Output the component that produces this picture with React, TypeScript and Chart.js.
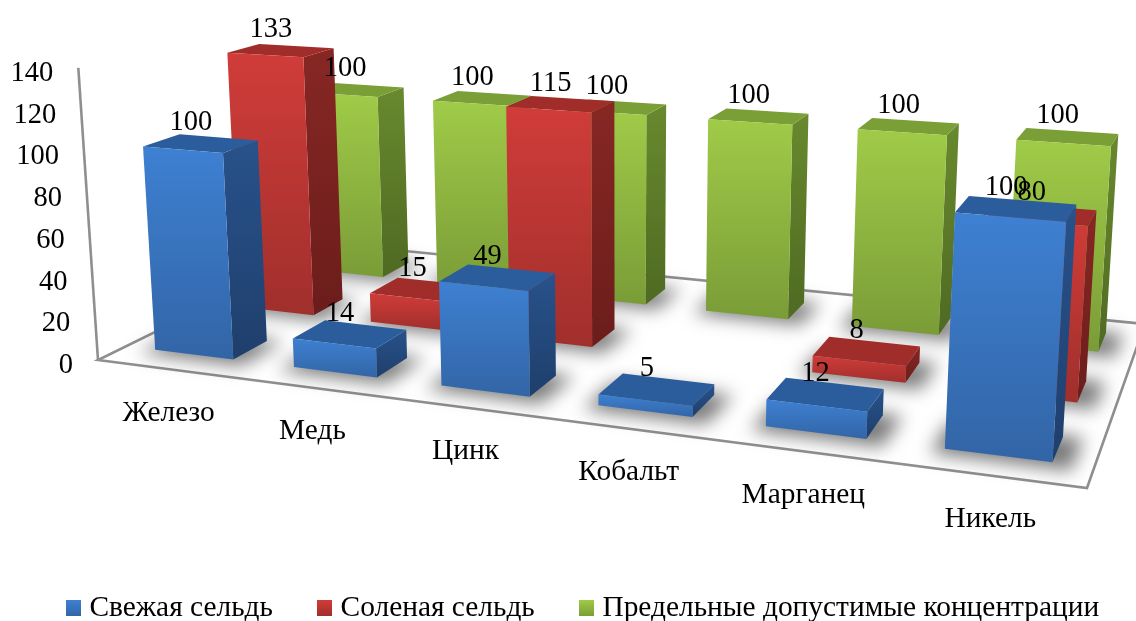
import React, { useEffect, useRef } from "react";
import { Chart, registerables } from "chart.js";

Chart.register(...registerables);

const categories = ["Железо", "Медь", "Цинк", "Кобальт", "Марганец", "Никель"];
const freshHerring = [100, 14, 49, 5, 12, 100];
const saltedHerring = [133, 15, 115, null, 8, 80];
const limits = [100, 100, 100, 100, 100, 100];
const seriesNames = ["Свежая сельдь", "Соленая сельдь", "Предельные допустимые концентрации"];

const W = 1136;
const H = 621;
const FONT = "'Liberation Serif', 'Times New Roman', serif";
const FONT_SIZE = 28.5;
const TEXT_FONT_SIZE = 29.4;

const palette = [
  { legend: "#3a7ccc", front: ["#3e80d2", "#3265a6"], side: ["#28528b", "#1f3f6c"], top: "#2b5d9c" },
  { legend: "#c93a37", front: ["#d03c39", "#a02f2c"], side: ["#872724", "#6b1d1b"], top: "#a02d2a" },
  { legend: "#8cb33f", front: ["#a0cb48", "#7a9c37"], side: ["#68892e", "#4f6a22"], top: "#7a9f36" },
];

// Camera of the 3D view: homography of the floor plus the vertical vanishing direction.
const cam = { a: 794.03, b: 313.59, c: 98, d: 40.47, e: -59.32, f: 360, g: -0.17936, h: 0.23231, vx: 620, vy: 8100, lam: -0.03636 };

function project(u: number, v: number, t: number) {
  const k = cam.lam * t;
  const w = cam.g * u + cam.h * v + 1 + k;
  return {
    x: (cam.a * u + cam.b * v + cam.c + k * cam.vx) / w,
    y: (cam.d * u + cam.e * v + cam.f + k * cam.vy) / w,
  };
}

const BAR_U = 0.57; // share of a category cell
const BAR_V = 0.4; // share of a series row

function poly(ctx: CanvasRenderingContext2D, pts: { x: number; y: number }[], shift = 0) {
  ctx.beginPath();
  pts.forEach((p, i) => (i ? ctx.lineTo(p.x + shift, p.y) : ctx.moveTo(p.x + shift, p.y)));
  ctx.closePath();
}

function legendSwatch(colors: string[]) {
  const c = document.createElement("canvas");
  c.width = 15;
  c.height = 16;
  const x = c.getContext("2d")!;
  const g = x.createLinearGradient(0, 0, 0, 16);
  g.addColorStop(0, colors[0]);
  g.addColorStop(1, colors[1]);
  x.fillStyle = g;
  x.fillRect(0, 0, 15, 16);
  return c;
}

const scene3d = {
  id: "scene3d",
  beforeDraw(chart: any) {
    const { x, y } = chart.scales;
    x.getLabelItems().forEach((it: any, i: number) => {
      const p = project((x.getPixelForTick(i) - x.left) / x.width, 0, 0);
      it.options.translation = [p.x + 2, p.y + 44];
      it.options.textBaseline = "middle";
      it.options.textAlign = "center";
      it.textOffset = 0;
    });
    y.getLabelItems().forEach((it: any, i: number) => {
      const px = y.getPixelForTick(i);
      const p = project(0, 0, (y.bottom - px) / (y.bottom - y.top));
      it.options.translation = [p.x - 25, px];
      it.options.textAlign = "right";
    });
  },
  beforeDatasetsDraw(chart: any) {
    const { ctx, scales } = chart;
    const { x, y } = scales;
    const rows = chart.data.datasets.length;
    const halfU = (BAR_U / categories.length) / 2;
    const halfV = (BAR_V / rows) / 2;

    // floor and axis
    ctx.save();
    ctx.strokeStyle = "#8f8f8f";
    ctx.lineWidth = 2.6;
    ctx.lineJoin = "miter";
    poly(ctx, [project(0, 0, 0), project(1, 0, 0), project(1, 1, 0), project(0, 1, 0)]);
    ctx.stroke();
    const a0 = project(0, 0, 0);
    const a1 = project(0, 0, 1);
    ctx.beginPath();
    ctx.moveTo(a0.x, a0.y);
    ctx.lineTo(a1.x, a1.y);
    ctx.stroke();
    ctx.restore();

    const bars: any[] = [];
    for (let k = rows - 1; k >= 0; k--) {
      const data = chart.data.datasets[k].data;
      data.forEach((val: number | null, i: number) => {
        if (val === null) return;
        const uc = (x.getPixelForValue(i) - x.left) / x.width;
        const vc = (k + 0.5) / rows;
        const t = (y.bottom - y.getPixelForValue(val)) / (y.bottom - y.top);
        bars.push({ k, val, t, uc, vc, u0: uc - halfU, u1: uc + halfU, v0: vc - halfV, v1: vc + halfV });
      });
    }

    // soft contact shadows on the floor: only the blur of an off-canvas shape lands here
    ctx.save();
    const off = 4000;
    ctx.shadowOffsetX = off;
    ctx.shadowColor = "rgba(0,0,0,0.52)";
    ctx.shadowBlur = 18;
    ctx.fillStyle = "#000";
    bars.forEach((b) => {
      const su0 = b.u0 - 0.01;
      const su1 = b.u1 + 0.018;
      const sv0 = b.v0 - 0.03;
      const sv1 = b.v1 + 0.01;
      poly(ctx, [project(su0, sv0, 0), project(su1, sv0, 0), project(su1, sv1, 0), project(su0, sv1, 0)], -off);
      ctx.fill();
    });
    ctx.restore();

    // boxes, back row first
    bars.forEach((b) => {
      const c = palette[b.k];
      const fb0 = project(b.u0, b.v0, 0);
      const fb1 = project(b.u1, b.v0, 0);
      const ft0 = project(b.u0, b.v0, b.t);
      const ft1 = project(b.u1, b.v0, b.t);
      const bb1 = project(b.u1, b.v1, 0);
      const bt1 = project(b.u1, b.v1, b.t);
      const bt0 = project(b.u0, b.v1, b.t);

      const sg = ctx.createLinearGradient(0, Math.min(ft1.y, bt1.y), 0, fb1.y);
      sg.addColorStop(0, c.side[0]);
      sg.addColorStop(1, c.side[1]);
      ctx.fillStyle = sg;
      poly(ctx, [fb1, bb1, bt1, ft1]);
      ctx.fill();

      ctx.fillStyle = c.top;
      poly(ctx, [ft0, ft1, bt1, bt0]);
      ctx.fill();

      const fg = ctx.createLinearGradient(0, ft0.y, 0, fb1.y);
      fg.addColorStop(0, c.front[0]);
      fg.addColorStop(1, c.front[1]);
      ctx.fillStyle = fg;
      poly(ctx, [fb0, fb1, ft1, ft0]);
      ctx.fill();
    });

    // value labels
    ctx.save();
    ctx.fillStyle = "#000";
    ctx.font = `${FONT_SIZE}px ${FONT}`;
    ctx.textAlign = "center";
    ctx.textBaseline = "middle";
    bars.forEach((b) => {
      const p = project(b.uc, b.vc, b.t);
      ctx.fillText(String(b.val), p.x - 10, p.y - 21);
    });
    ctx.restore();
    return false;
  },
};

export default function App() {
  const ref = useRef<HTMLCanvasElement | null>(null);
  useEffect(() => {
    if (!ref.current) return;
    const swatches = palette.map((p) => legendSwatch(p.front));
    const chart = new Chart(ref.current, {
      type: "bar",
      data: {
        labels: categories,
        datasets: [
          { label: seriesNames[0], data: freshHerring, backgroundColor: palette[0].legend },
          { label: seriesNames[1], data: saltedHerring, backgroundColor: palette[1].legend },
          { label: seriesNames[2], data: limits, backgroundColor: palette[2].legend },
        ],
      },
      plugins: [scene3d],
      options: {
        animation: false,
        responsive: false,
        layout: { padding: { top: 73.5, left: 0, right: -36, bottom: -12 } },
        scales: {
          x: {
            grid: { display: false },
            border: { display: false },
            afterFit: (s: any) => { s.height = 177; },
            ticks: { autoSkip: false, minRotation: 0, maxRotation: 0, color: "#000", font: { family: FONT, size: TEXT_FONT_SIZE } },
          },
          y: {
            min: 0,
            max: 140,
            grid: { display: false },
            border: { display: false },
            afterFit: (s: any) => { s.width = 80; },
            ticks: { stepSize: 20, color: "#000", font: { family: FONT, size: FONT_SIZE } },
          },
        },
        plugins: {
          tooltip: { enabled: false },
          legend: {
            position: "bottom",
            labels: {
              color: "#000",
              padding: 51,
              usePointStyle: true,
              pointStyleWidth: 2,
              font: { family: FONT, size: TEXT_FONT_SIZE },
              generateLabels(c: any) {
                return Chart.defaults.plugins.legend.labels.generateLabels(c).map((item: any, i: number) => ({
                  ...item,
                  pointStyle: swatches[i],
                }));
              },
            },
          },
        },
      } as any,
    });
    return () => chart.destroy();
  }, []);
  return (
    <div style={{ position: "absolute", left: 0, top: 0, width: W, height: H, background: "#fff" }}>
      <canvas ref={ref} width={W} height={H} style={{ display: "block" }} />
    </div>
  );
}
